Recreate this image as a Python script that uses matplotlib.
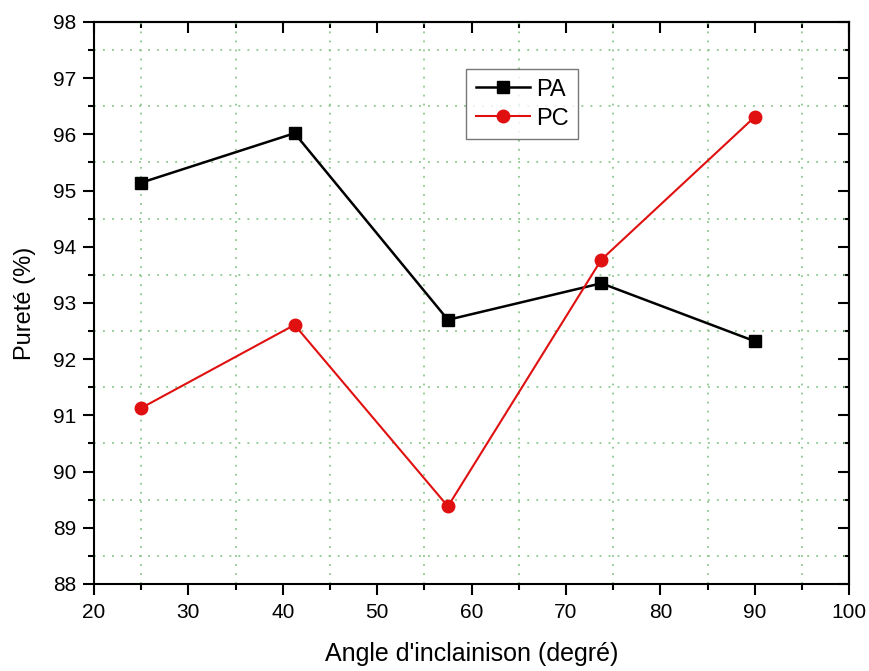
import matplotlib.pyplot as plt
from matplotlib.ticker import MultipleLocator

angle = [25, 41.25, 57.5, 73.75, 90]
pa = [95.14, 96.02, 92.70, 93.35, 92.32]
pc = [91.13, 92.61, 89.38, 93.77, 96.31]

plt.rcParams['font.family'] = ['Liberation Sans', 'DejaVu Sans']

fig = plt.figure(figsize=(8.7, 6.71), dpi=100)
ax = fig.add_axes([0.108, 0.1297, 0.868, 0.9673 - 0.1297])

ax.plot(angle, pa, color='black', lw=1.8, marker='s', ms=8, label='PA')
ax.plot(angle, pc, color='#e01010', lw=1.5, marker='o', ms=9,
        markeredgecolor='#e01010', label='PC')

ax.set_xlim(20, 100)
ax.set_ylim(88, 98)
ax.xaxis.set_major_locator(MultipleLocator(10))
ax.xaxis.set_minor_locator(MultipleLocator(5))
ax.yaxis.set_major_locator(MultipleLocator(1))
ax.yaxis.set_minor_locator(MultipleLocator(0.5))

# grid only on the minor positions
ax.grid(False, which='major')
ax.grid(True, which='minor', color='#8cc88c', linestyle=(0, (1, 4)), lw=1.3)

ax.tick_params(axis='both', which='major', direction='out', length=8, width=1.5,
               labelsize=15, top=False, right=False)
ax.tick_params(axis='x', which='major', pad=6)
ax.tick_params(axis='y', which='major', pad=5)
ax.tick_params(axis='both', which='minor', direction='out', length=4, width=1.5,
               top=False, right=False)

# top and right ticks point inward
sec_x = ax.secondary_xaxis('top')
sec_x.xaxis.set_major_locator(MultipleLocator(10))
sec_x.xaxis.set_minor_locator(MultipleLocator(5))
sec_x.tick_params(which='major', direction='in', length=8, width=1.5, labeltop=False)
sec_x.tick_params(which='minor', direction='in', length=4, width=1.5)
sec_y = ax.secondary_yaxis('right')
sec_y.yaxis.set_major_locator(MultipleLocator(1))
sec_y.yaxis.set_minor_locator(MultipleLocator(0.5))
sec_y.tick_params(which='major', direction='in', length=8, width=1.5, labelright=False)
sec_y.tick_params(which='minor', direction='in', length=4, width=1.5)
for s in ax.spines.values():
    s.set_linewidth(1.5)
sec_x.spines['top'].set_linewidth(1.5)
sec_y.spines['right'].set_linewidth(1.5)

ax.set_xlabel("Angle d'inclainison (degré)", fontsize=18, labelpad=14)
ax.set_ylabel('Pureté (%)', fontsize=17, labelpad=12)

leg = ax.legend(loc='upper left', bbox_to_anchor=(0.493, 0.916), fontsize=17,
                frameon=True, fancybox=False, edgecolor='#555555',
                handlelength=2.3, borderpad=0.4, borderaxespad=0,
                labelspacing=0.3, handletextpad=0.25)
leg.get_frame().set_linewidth(1.0)

fig.savefig('out.png', dpi=100)
